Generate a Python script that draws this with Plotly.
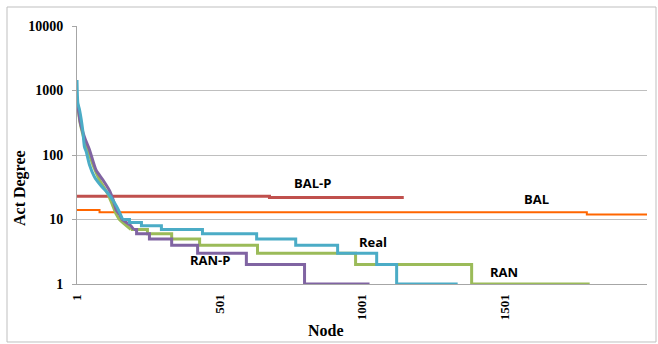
import math
import plotly.graph_objects as go

# Node rank (x) and activity degree (y) for each network.
# The high-degree head of each ranking is a smooth decay; the tail is an
# integer-degree staircase.
real_head_node = [1, 4, 10, 21, 27, 34, 45, 62, 86, 108, 133, 150, 161]
real_head_deg = [1450, 640, 500, 245, 135, 110, 70, 46, 33, 26, 18, 13, 10]
real_tail_node = [161, 185, 227, 297, 441, 631, 768, 915, 1052, 1122, 1336]
real_tail_deg = [10, 9, 8, 7, 6, 5, 4, 3, 2, 1, 1]

ran_head_node = [1, 6, 11, 16, 27, 45, 60, 80, 95, 109, 125, 139, 150, 161, 175, 190]
ran_head_deg = [680, 480, 330, 260, 170, 100, 65, 41, 32, 25, 17, 12, 10, 9, 8, 7]
ran_tail_node = [190, 248, 333, 431, 634, 978, 1385, 1799]
ran_tail_deg = [7, 6, 5, 4, 3, 2, 1, 1]

ranp_head_node = [1, 6, 11, 16, 27, 45, 68, 92, 115, 128, 139, 150, 160, 174, 190, 200]
ranp_head_deg = [700, 500, 350, 275, 190, 120, 58, 41, 28, 20, 14, 12, 10, 9, 8, 7]
ranp_tail_node = [200, 210, 255, 333, 424, 595, 799, 1027]
ranp_tail_deg = [7, 6, 5, 4, 3, 2, 1, 1]

bal_node = [1, 80, 1789, 2000]
bal_deg = [14, 13, 12, 12]

balp_node = [1, 676, 1147]
balp_deg = [23, 22, 22]

x_ticks = [1, 501, 1001, 1501]
y_ticks = [1, 10, 100, 1000, 10000]

# (name, head x, head y, tail x, tail y, colour, width)
series = [
    ("BAL-P", [], [], balp_node, balp_deg, "#C0504D", 3),
    ("BAL", [], [], bal_node, bal_deg, "#FF6600", 2),
    ("RAN", ran_head_node, ran_head_deg, ran_tail_node, ran_tail_deg, "#9BBB59", 3),
    ("RAN-P", ranp_head_node, ranp_head_deg, ranp_tail_node, ranp_tail_deg, "#8064A2", 3),
    ("Real", real_head_node, real_head_deg, real_tail_node, real_tail_deg, "#4BACC6", 3),
]

fig = go.Figure()
for name, hx, hy, tx, ty, color, width in series:
    if hx:
        fig.add_trace(go.Scatter(
            x=hx, y=hy, name=name, mode="lines",
            line=dict(color=color, width=width, shape="spline", smoothing=0.6),
            showlegend=False,
        ))
    fig.add_trace(go.Scatter(
        x=tx, y=ty, name=name, mode="lines",
        line=dict(color=color, width=width, shape="hv"),
        showlegend=False,
    ))

serif = "Liberation Serif, Times New Roman, serif"
label_font = dict(family="Open Sans, sans-serif", size=13, color="#000000", weight="bold")

# Series name labels placed next to their lines
labels = [
    ("BAL-P", 827, 36.8),
    ("BAL", 1613, 20.8),
    ("Real", 1038, 4.48),
    ("RAN-P", 469, 2.36),
    ("RAN", 1497, 1.53),
]
annotations = [
    dict(text=t, x=x, y=math.log10(y), xref="x", yref="y",
         showarrow=False, font=label_font, xanchor="center", yanchor="middle")
    for t, x, y in labels
]

annotations += [
    dict(text="<b>Act Degree</b>", x=-0.1, y=0.372, xref="paper", yref="paper",
         textangle=-90, showarrow=False, xanchor="center", yanchor="middle",
         font=dict(family=serif, size=16, color="#000000")),
    dict(text="<b>Node</b>", x=0.437, y=-0.182, xref="paper", yref="paper",
         showarrow=False, xanchor="center", yanchor="middle",
         font=dict(family=serif, size=16, color="#000000")),
    dict(text="(c) Node degree", x=0.447, y=1.145, xref="paper", yref="paper",
         showarrow=False, xanchor="center", yanchor="middle",
         font=dict(family=serif, size=20, color="#000000")),
]

fig.update_layout(
    width=658, height=344,
    margin=dict(l=77, r=11, t=26, b=60),
    paper_bgcolor="white", plot_bgcolor="white",
    annotations=annotations,
    shapes=[dict(type="rect", xref="paper", yref="paper",
                 x0=-0.1228, x1=1.0158, y0=-0.2248, y1=1.0736,
                 line=dict(color="#BFBFBF", width=1), fillcolor="rgba(0,0,0,0)",
                 layer="below")],
)

fig.update_xaxes(
    range=[1, 2000], tickvals=x_ticks, ticktext=[str(v) for v in x_ticks],
    tickangle=-90, showgrid=False, zeroline=False,
    showline=True, linecolor="#A6A6A6", linewidth=1,
    ticks="", ticklabelstandoff=4,
    tickfont=dict(family=serif, size=13, color="#000000", weight="bold"),
)
fig.update_yaxes(
    type="log", range=[0, 4], tickvals=y_ticks, ticktext=[str(v) for v in y_ticks],
    showgrid=True, gridcolor="#BFBFBF", gridwidth=1, zeroline=False,
    showline=True, linecolor="#A6A6A6", linewidth=1,
    ticks="outside", ticklen=4, tickcolor="#A6A6A6", ticklabelstandoff=6,
    tickfont=dict(family=serif, size=14, color="#000000", weight="bold"),
)

fig.write_html("out.html")
